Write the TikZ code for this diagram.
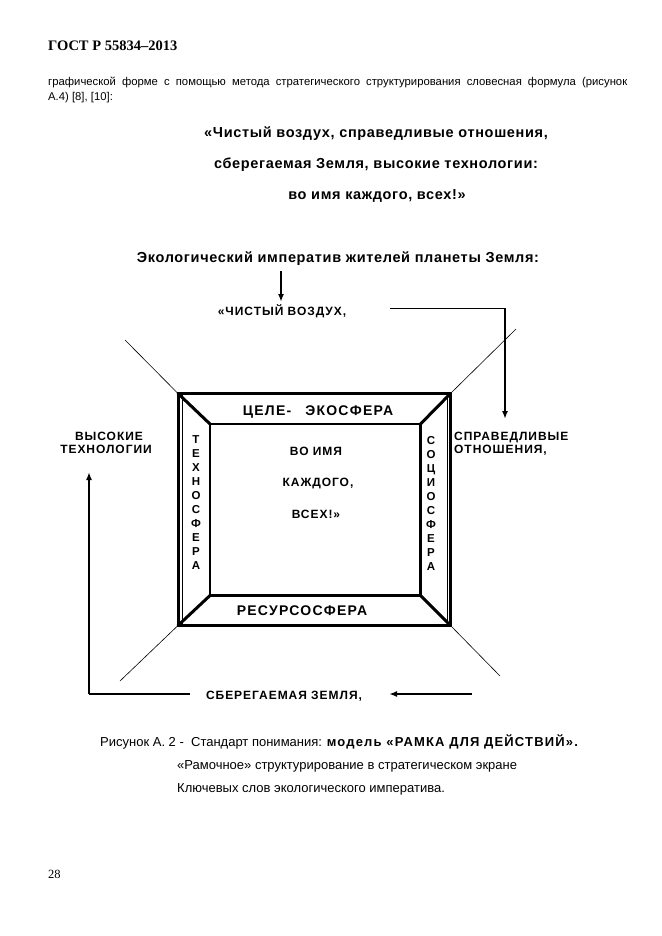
\documentclass[tikz,border=0pt]{standalone}
\usepackage{fontspec}
\setmainfont{Liberation Sans}
\newfontfamily\serifx{Liberation Serif}
\usetikzlibrary{arrows.meta}
\newcommand{\fsz}[1]{\fontsize{#1}{#1}\selectfont}
\newcommand{\spc}[1]{\addfontfeatures{LetterSpace=#1}}
\begin{document}
\begin{tikzpicture}[x=1pt,y=-1pt,
  txt/.style={inner sep=0pt, anchor=base},
  lab/.style={txt, font=\fsz{12}\bfseries\spc{8}},
  big/.style={txt, font=\fsz{14.5}\bfseries\spc{4.5}},
  frm/.style={txt, font=\fsz{14}\bfseries\spc{9}},
  vert/.style={inner sep=0pt, align=center, font=\fontsize{11.5}{14}\selectfont\bfseries},
  captxt/.style={txt, anchor=base west, font=\fsz{13}},
  thickln/.style={line width=3pt, line cap=round, line join=miter},
  thinln/.style={line width=0.6pt},
  arr/.style={line width=1.6pt, -{Latex[length=8pt,width=6pt]}},
  conn/.style={line width=1pt}]
\useasboundingbox (0,0) rectangle (661,936);
\fill[white] (0,0) rectangle (661,936);
% header and body
\node[txt, anchor=base west, font=\serifx\fsz{14.5}\bfseries] (hdr) at (48,51) {ГОСТ Р 55834–2013};
\node[txt, anchor=base west, font=\fsz{11.3}] (body1) at (48,86) {\makebox[579pt][s]{графической форме с помощью метода стратегического структурирования словесная формула (рисунок}};
\node[txt, anchor=base west, font=\fsz{11.3}] (body2) at (48,101) {А.4) [8], [10]:};
% quote
\node[big] (q1) at (376,138) {«Чистый воздух, справедливые отношения,};
\node[big] (q2) at (376,168.5) {сберегаемая Земля, высокие технологии:};
\node[big] (q3) at (377,199) {во имя каждого, всех!»};
% title
\node[big] (title) at (338,262) {Экологический императив жителей планеты Земля:};
% labels
\node[lab] (air) at (282,315) {«ЧИСТЫЙ ВОЗДУХ,};
\node[lab] (high1) at (109,440.5) {ВЫСОКИЕ};
\node[lab] (high2) at (106,453.5) {ТЕХНОЛОГИИ};
\node[lab, anchor=base west] (fair1) at (454,440.5) {СПРАВЕДЛИВЫЕ};
\node[lab, anchor=base west] (fair2) at (454,453.5) {ОТНОШЕНИЯ,};
\node[lab] (save) at (284,699) {СБЕРЕГАЕМАЯ ЗЕМЛЯ,};
% frame
\coordinate (O1) at (178,393.5);
\coordinate (O2) at (450.5,393.5);
\coordinate (O3) at (450.5,625.5);
\coordinate (O4) at (178,625.5);
\coordinate (I1) at (210,424);
\coordinate (I2) at (420.5,424);
\coordinate (I3) at (420.5,595.5);
\coordinate (I4) at (210,595.5);
\draw[thickln] (O1) -- (O2) -- (O3) -- (O4) -- cycle;
\draw[line width=2.5pt] (I1) -- (I2) -- (I3) -- (I4) -- cycle;
\draw[thickln] (O1) -- (I1) (O2) -- (I2) (O3) -- (I3) (O4) -- (I4);
\draw[line width=1pt] (182.5,395) -- (182.5,624) (447,395) -- (447,624);
% extension lines
\coordinate (E1) at (125,340);
\coordinate (E2) at (516,329);
\coordinate (E3) at (500,676);
\coordinate (E4) at (120,681);
\draw[thinln] (O1) -- (E1) (O2) -- (E2) (O3) -- (E3) (O4) -- (E4);
% frame texts
\node[frm] (eco) at (318,415.5) {ЦЕЛЕ-\hspace{14pt}ЭКОСФЕРА};
\node[frm] (res) at (302,615.5) {РЕСУРСОСФЕРА};
\node[vert] (tech) at (196,503) {Т\\Е\\Х\\Н\\О\\С\\Ф\\Е\\Р\\А};
\node[vert] (socio) at (431,503) {С\\О\\Ц\\И\\О\\С\\Ф\\Е\\Р\\А};
\node[lab] (c1) at (316,455.5) {ВО ИМЯ};
\node[lab] (c2) at (318,486.5) {КАЖДОГО,};
\node[lab] (c3) at (316,518.5) {ВСЕХ!»};
% arrows
\coordinate (a0) at (281,271);
\coordinate (a1) at (281,302);
\draw[arr] (a0) -- (a1);
\coordinate (r0) at (390,308);
\coordinate (r1) at (505,308);
\coordinate (r2) at (505,419);
\draw[conn] (r0) -- (r1);
\draw[arr] (r1) -- (r2);
\coordinate (b0) at (472,694);
\coordinate (b1) at (389,694);
\draw[arr] (b0) -- (b1);
\coordinate (l0) at (190,694);
\coordinate (l1) at (89,694);
\coordinate (l2) at (89,472);
\draw[conn, line width=1.3pt] (l0) -- (l1);
\draw[arr] (l1) -- (l2);
% caption
\node[captxt] (cap1) at (100,746.5) {Рисунок А. 2 -\ \ Стандарт понимания: {\bfseries\spc{9}модель «РАМКА ДЛЯ ДЕЙСТВИЙ».}};
\node[captxt] (cap2) at (177,769.5) {«Рамочное» структурирование в стратегическом экране};
\node[captxt] (cap3) at (177,792.5) {Ключевых слов экологического императива.};
\node[txt, anchor=base west, font=\serifx\fsz{12.5}] (pg) at (48,878) {28};
\end{tikzpicture}
\end{document}
